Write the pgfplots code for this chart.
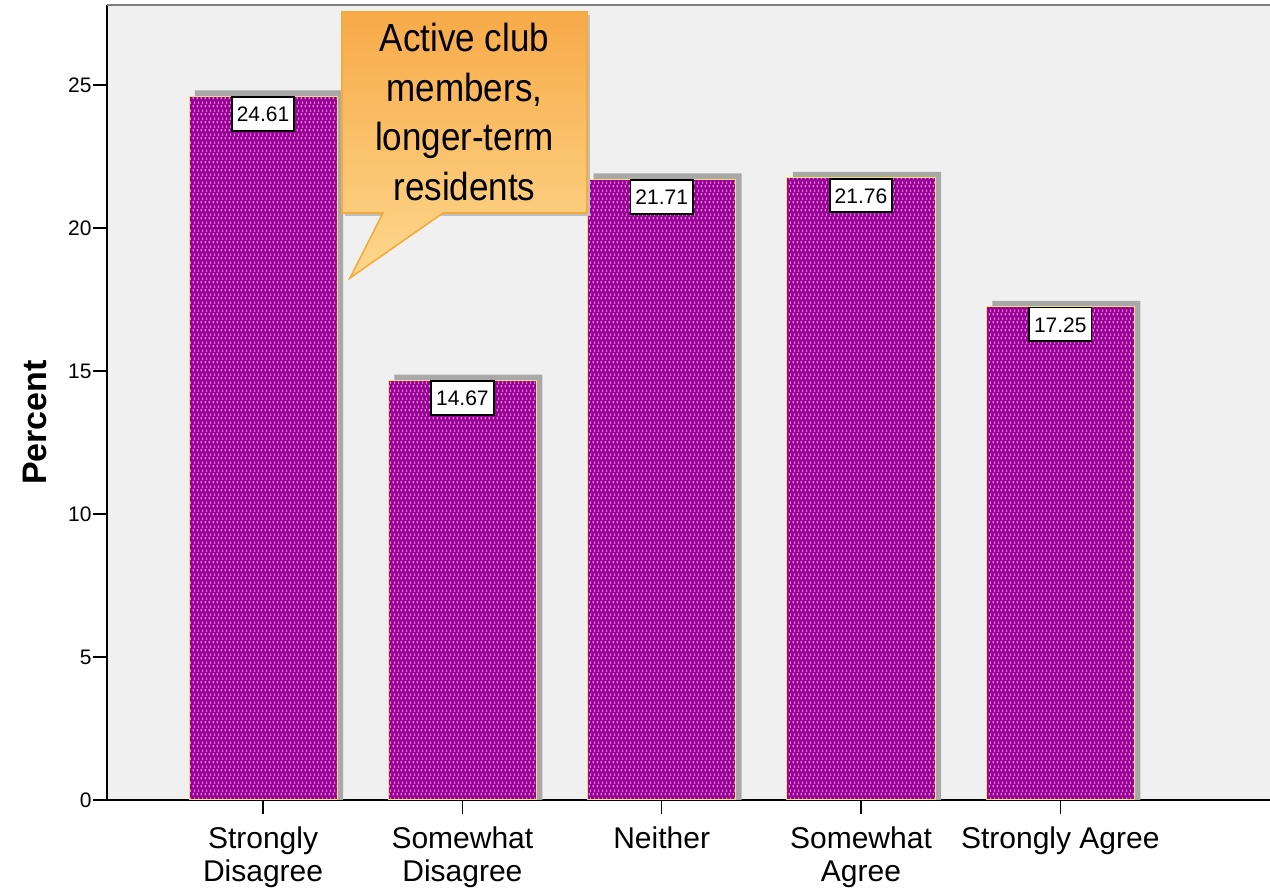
\documentclass[border=0pt]{standalone}
\usepackage{fontspec}
\setmainfont{Liberation Sans}
\usepackage{pgfplots}
\usepackage{pgfplotstable}
\pgfplotsset{compat=1.18}
\usetikzlibrary{patterns.meta}

\definecolor{plotbg}{RGB}{240,240,240}
\definecolor{barpurple}{RGB}{150,0,150}
\definecolor{dotpink}{RGB}{228,120,210}
\definecolor{baredge}{RGB}{240,225,110}
\definecolor{shadowgray}{RGB}{168,168,168}
\definecolor{calloutedge}{RGB}{245,170,60}
\definecolor{callouttop}{RGB}{247,170,72}
\definecolor{calloutbot}{RGB}{253,216,142}

\tikzdeclarepattern{
  name=spssdots,
  bounding box={(0,0) and (2pt,4pt)},
  tile size={(2pt,4pt)},
  code={
    \fill (0.4pt,0.3pt) rectangle (1.1pt,1.7pt);
    \fill (1.4pt,2.3pt) rectangle (2pt,3.7pt);
  }
}

% percent of respondents per answer
\pgfplotstableread{
x y
0 24.61
1 14.67
2 21.71
3 21.76
4 17.25
}\responses

\begin{document}
\begin{tikzpicture}
\path[use as bounding box] (-53.5pt,-46pt) rectangle (581.5pt,400pt);
\begin{axis}[
  at={(0,0)}, anchor=south west,
  scale only axis,
  width=581.5pt, height=397.5pt,
  xmin=-0.783, xmax=5.052,
  ymin=0, ymax=27.8,
  axis background/.style={fill=plotbg},
  axis x line*=bottom, axis y line*=left,
  axis line style={-, line width=1pt, black},
  tick align=outside,
  major tick length=7pt,
  tick style={line width=0.8pt, black},
  xtick=data,
  xticklabels={Strongly\\Disagree, Somewhat\\Disagree, Neither, Somewhat\\Agree, Strongly Agree},
  xticklabel style={align=center, font=\fontsize{15}{16.5}\selectfont, yshift=-3pt},
  ytick={0,5,10,15,20,25},
  yticklabel style={font=\fontsize{10.5}{12}\selectfont, inner xsep=0.5pt},
  /pgf/number format/assume math mode=true,
  ylabel={Percent},
  every axis y label/.style={at={([xshift=-36pt,yshift=-10pt]axis description cs:0,0.5)}, rotate=90, anchor=center, font=\fontsize{17}{20}\selectfont\bfseries},
  ybar, bar width=0.743,
]
\addplot[fill=shadowgray, draw=none, bar shift=0.03] table[x=x, y expr=\thisrow{y}+0.2] {\responses};
\addplot[fill=barpurple, draw=baredge, line width=0.5pt, bar shift=0,
  postaction={pattern=spssdots, pattern color=dotpink},
  nodes near coords,
  nodes near coords style={/pgf/number format/fixed, /pgf/number format/precision=2, /pgf/number format/fixed zerofill},
  every node near coord/.append style={anchor=north, fill=white, draw=black, line width=0.9pt,
    font=\fontsize{10.5}{12}\selectfont, text=black, inner xsep=2.5pt, inner ysep=4.5pt,
    text height=7.8pt, text depth=0pt, postaction={}}
] table[x=x, y=y] {\responses};
\draw[gray, line width=1.5pt] (rel axis cs:0,1) -- (rel axis cs:1,1);
\end{axis}
% callout
\fill[black!25] (119pt,392.5pt) -- (241.5pt,392.5pt) -- (241.5pt,292pt) -- (119pt,292pt) -- cycle;
\path[top color=callouttop, bottom color=calloutbot, draw=calloutedge, line width=0.8pt]
  (117.5pt,394pt) -- (240pt,394pt) -- (240pt,293.5pt) -- (168pt,293.5pt)
  -- (121.5pt,261pt) -- (138pt,293.5pt) -- (117.5pt,293.5pt) -- cycle;
\node[align=center, font=\fontsize{17.5}{22.3}\selectfont, yscale=1.12] at (178.75pt,344pt)
  {Active club\\members,\\longer-term\\residents};
\end{tikzpicture}
\end{document}
